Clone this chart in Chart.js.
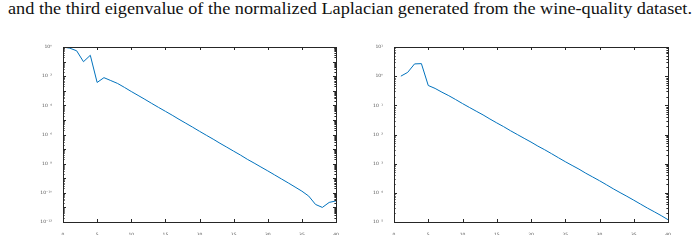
<!DOCTYPE html>
<html>
<head>
<meta charset="utf-8">
<script src="https://cdn.jsdelivr.net/npm/chart.js@4.4.1/dist/chart.umd.min.js"></script>
<style>
    html, body { margin: 0; padding: 0; background: #ffffff; }
    #page { position: relative; width: 698px; height: 251px; overflow: hidden; background: #ffffff; }
    #caption {
        position: absolute; left: 8px; top: 0px; white-space: nowrap;
        font-family: "Liberation Serif", "DejaVu Serif", serif; font-size: 16px; color: #111111;
        transform-origin: 0 0;
    }
    .box { position: absolute; top: 40px; width: 305px; height: 195px; }
    #leftBox { left: 40px; }
    #rightBox { left: 372px; }
</style>
</head>
<body>
<div id="page">
    <div id="caption">and the third eigenvalue of the normalized Laplacian generated from the wine-quality dataset.</div>
    <div class="box" id="leftBox"><canvas id="leftChart" width="305" height="195"></canvas></div>
    <div class="box" id="rightBox"><canvas id="rightChart" width="305" height="195"></canvas></div>
</div>
<script>
// x positions (index) for both panels
const leftX = [0, 1, 2, 3, 4, 5, 6, 7, 8, 9, 10, 11, 12, 13, 14, 15, 16, 17, 18, 19, 20,
    21, 22, 23, 24, 25, 26, 27, 28, 29, 30, 31, 32, 33, 34, 35, 36, 37, 38, 39, 40];
const leftValues = [1.0, 0.83, 0.55, 0.098, 0.27, 3.7e-3, 7.9e-3, 5.0e-3, 3.16e-3, 1.7e-3, 8.9e-4,
    4.8e-4, 2.57e-4, 1.35e-4, 7.2e-5, 3.9e-5, 2.1e-5, 1.1e-5, 5.9e-6, 3.16e-6, 1.66e-6,
    8.9e-7, 4.8e-7, 2.5e-7, 1.35e-7, 7.2e-8, 3.9e-8, 2.0e-8, 1.1e-8, 5.9e-9, 3.2e-9,
    1.7e-9, 9.0e-10, 4.8e-10, 2.5e-10, 1.3e-10, 6.0e-11, 1.6e-11, 1.0e-11, 2.2e-11, 2.8e-11];

const rightX = [1, 2, 3, 4, 5, 6, 7, 8, 9, 10, 11, 12, 13, 14, 15, 16, 17, 18, 19, 20,
    21, 22, 23, 24, 25, 26, 27, 28, 29, 30, 31, 32, 33, 34, 35, 36, 37, 38, 39, 40];
const rightValues = [1.0, 1.35, 2.63, 2.69, 0.479, 0.38, 0.282, 0.214, 0.158, 0.115, 0.085,
    0.063, 0.047, 0.034, 0.025, 0.0186, 0.0135, 0.010, 0.0074, 0.0055, 0.0040,
    0.0030, 0.0022, 0.0016, 0.00117, 8.7e-4, 6.5e-4, 4.7e-4, 3.5e-4, 2.6e-4, 1.9e-4,
    1.38e-4, 1.02e-4, 7.6e-5, 5.6e-5, 4.1e-5, 3.0e-5, 2.24e-5, 1.66e-5, 1.2e-5];

const xTicks = [0, 5, 10, 15, 20, 25, 30, 35, 40];
const leftYTicks = [1e-12, 1e-10, 1e-8, 1e-6, 1e-4, 1e-2, 1];
const leftYTickLabels = ["10⁻¹²", "10⁻¹⁰", "10⁻⁸", "10⁻⁶", "10⁻⁴", "10⁻²", "10⁰"];
const rightYTicks = [1e-5, 1e-4, 1e-3, 1e-2, 1e-1, 1, 10];
const rightYTickLabels = ["10⁻⁵", "10⁻⁴", "10⁻³", "10⁻²", "10⁻¹", "10⁰", "10¹"];

const lineColor = "#0072BD";
const axisColor = "#262626";
const tickFont = { family: "DejaVu Sans", size: 4.5 };

// stretch the caption to the width it has in the reference
const cap = document.getElementById("caption");
cap.style.transform = "scaleX(" + (684 / cap.getBoundingClientRect().width) + ")";

// matlab-like box with inward ticks on all four sides
const boxTicks = {
    id: "boxTicks",
    afterDraw: function (chart) {
        const ctx = chart.ctx;
        const a = chart.chartArea;
        const xs = chart.scales.x;
        const ys = chart.scales.y;
        ctx.save();
        ctx.strokeStyle = axisColor;
        ctx.lineWidth = 1;
        ctx.beginPath();
        xs.ticks.forEach(function (t) {
            const px = Math.round(xs.getPixelForValue(t.value)) + 0.5;
            ctx.moveTo(px, a.bottom);
            ctx.lineTo(px, a.bottom - 3);
            ctx.moveTo(px, a.top);
            ctx.lineTo(px, a.top + 3);
        });
        const lo = Math.round(Math.log10(ys.min));
        const hi = Math.round(Math.log10(ys.max));
        for (let e = lo; e <= hi; e++) {
            for (let k = 1; k <= 9; k++) {
                const v = k * Math.pow(10, e);
                if (v < ys.min * 0.999 || v > ys.max * 1.001) continue;
                const py = Math.round(ys.getPixelForValue(v)) + 0.5;
                const len = k === 1 ? 3 : 1.6;
                ctx.moveTo(a.left, py);
                ctx.lineTo(a.left + len, py);
                ctx.moveTo(a.right, py);
                ctx.lineTo(a.right - len, py);
            }
        }
        ctx.stroke();
        ctx.strokeRect(Math.round(a.left) + 0.5, Math.round(a.top) + 0.5,
            Math.round(a.right - a.left), Math.round(a.bottom - a.top));
        ctx.restore();
    },
};

function makeChart(canvasId, xs, values, yMin, yMax, yTicks, yLabels, yWidth) {
    const points = xs.map((x, i) => ({ x: x, y: values[i] }));
    return new Chart(document.getElementById(canvasId).getContext("2d"), {
        type: "line",
        data: {
            datasets: [
                {
                    data: points,
                    borderColor: lineColor,
                    borderWidth: 1,
                    pointRadius: 0,
                    tension: 0,
                    fill: false,
                },
            ],
        },
        options: {
            responsive: false,
            animation: false,
            events: [],
            layout: { padding: { left: 0, top: 7, right: 9, bottom: 0 } },
            plugins: { legend: { display: false }, tooltip: { enabled: false } },
            scales: {
                x: {
                    type: "linear",
                    min: 0,
                    max: 40,
                    afterBuildTicks: function (scale) {
                        scale.ticks = xTicks.map((v) => ({ value: v }));
                    },
                    afterFit: function (scale) {
                        scale.height = 13;
                    },
                    grid: { display: false },
                    border: { display: false },
                    ticks: {
                        color: "#555555",
                        font: tickFont,
                        padding: 2,
                        maxRotation: 0,
                        autoSkip: false,
                    },
                },
                y: {
                    type: "logarithmic",
                    min: yMin,
                    max: yMax,
                    afterBuildTicks: function (scale) {
                        scale.ticks = yTicks.map((v) => ({ value: v }));
                    },
                    afterFit: function (scale) {
                        scale.width = yWidth;
                    },
                    grid: { display: false },
                    border: { display: false },
                    ticks: {
                        color: "#555555",
                        font: tickFont,
                        padding: 3,
                        autoSkip: false,
                        callback: function (value, index) {
                            return yLabels[index];
                        },
                    },
                },
            },
        },
        plugins: [boxTicks],
    });
}

makeChart("leftChart", leftX, leftValues, 1e-12, 1, leftYTicks, leftYTickLabels, 23);
makeChart("rightChart", rightX, rightValues, 1e-5, 10, rightYTicks, rightYTickLabels, 22);
</script>
</body>
</html>
